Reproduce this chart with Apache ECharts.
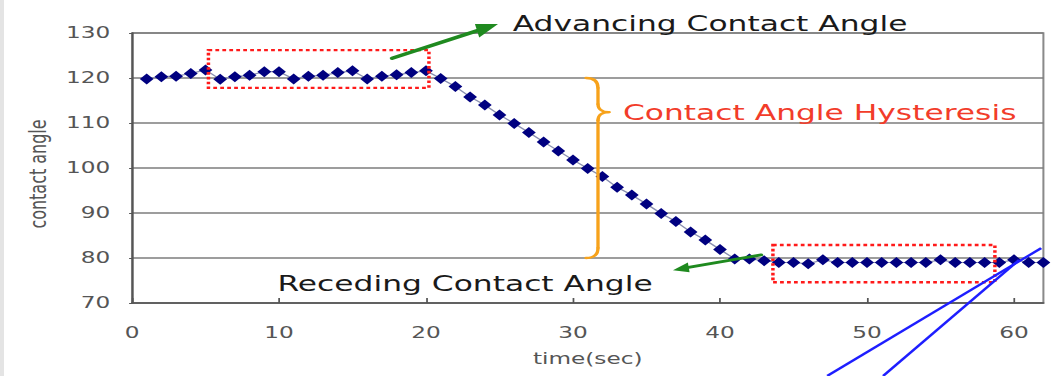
<!DOCTYPE html>
<html>
<head>
<meta charset="utf-8">
<script src="https://cdn.jsdelivr.net/npm/echarts@6/dist/echarts.min.js"></script>
<style>
html,body{margin:0;padding:0;background:#fff;overflow:hidden;width:1061px;height:376px}
#wrap{position:absolute;left:0;top:0;width:731.72px;height:376px;transform:scaleX(1.45);transform-origin:0 0}
#main{width:100%;height:100%}
</style>
</head>
<body>
<div id="wrap"><div id="main"></div></div>
<script>
// ---- data ----
const times = [1,2,3,4,5,6,7,8,9,10,11,12,13,14,15,16,17,18,19,20,21,22,23,24,25,26,27,28,29,30,31,32,33,34,35,36,37,38,39,40,41,42,43,44,45,46,47,48,49,50,51,52,53,54,55,56,57,58,59,60,61,62];
const angles = [119.8,120.3,120.4,121.0,121.8,119.7,120.3,120.6,121.4,121.4,119.8,120.4,120.6,121.2,121.6,119.8,120.4,120.7,121.2,121.6,119.9,118.1,115.8,114.0,111.8,109.9,107.9,105.8,103.8,101.8,99.9,98.1,95.7,94.0,92.0,89.9,88.1,85.8,84.0,81.9,79.8,79.8,79.4,79.0,79.0,78.7,79.6,79.0,79.0,79.0,79.0,79.0,79.0,79.0,79.6,79.0,79.0,79.0,79.0,79.6,79.0,79.0];
const xLabelTicks = [0,10,20,30,40,50,60];
const yLabelTicks = [70,80,90,100,110,120,130];
const xTitle = 'time(sec)';
const yTitle = 'contact angle';
const advText = 'Advancing Contact Angle';
const recText = 'Receding Contact Angle';
const hysText = 'Contact Angle Hysteresis';
// annotation anchors in data units
const advRect = [[5.2,126.2],[20.2,117.8]];
const recRect = [[43.6,82.9],[58.7,74.6]];
const advArrow = [[17.7,124.4],[24.9,132.0]];
const recArrow = [[42.8,80.7],[36.8,77.3]];
const blueLines = [[[47.3,53.8],[61.85,82.2]],[[51.1,53.8],[60.35,79.6]]];
const brace = {x:31.7, top:120, bottom:80, tip:112.4};
const advTextAt = [25.9,132.2];
const recTextAt = [9.9,74.4];
const hysTextAt = [33.4,112.4];

const SX = 1.45;
const chart = echarts.init(document.getElementById('main'), null, {renderer:'svg'});
const FONT = 'DejaVu Sans';

chart.setOption({
  animation:false,
  backgroundColor:'#fff',
  grid:{left:91.03, right:12.41, top:33, bottom:73, show:true, borderColor:'#8a8a8a', borderWidth:1.4, backgroundColor:'transparent'},
  xAxis:{
    type:'value', min:0, max:62, interval:10,
    name:xTitle, nameLocation:'middle', nameGap:48,
    nameTextStyle:{fontFamily:FONT, fontSize:16, color:'#555'},
    axisLine:{show:true, lineStyle:{color:'#555', width:1.6}},
    axisTick:{show:true, inside:true, length:5, lineStyle:{color:'#555', width:1.2}},
    axisLabel:{fontFamily:FONT, fontSize:16, color:'#555', margin:22, showMaxLabel:false,
      formatter:v=> xLabelTicks.includes(v) ? String(v) : ''},
    splitLine:{show:false}
  },
  yAxis:{
    type:'value', min:70, max:130, interval:10,
    name:yTitle, nameLocation:'middle', nameGap:52,
    nameTextStyle:{fontFamily:FONT, fontSize:16, color:'#555', padding:[0,12,0,0]},
    axisLine:{show:true, lineStyle:{color:'#555', width:1.4}},
    axisTick:{show:true, length:2, lineStyle:{color:'#555'}},
    axisLabel:{fontFamily:FONT, fontSize:16, color:'#555', margin:15,
      formatter:v=> yLabelTicks.includes(v) ? String(v) : ''},
    splitLine:{show:true, lineStyle:{color:'#7c7c7c', width:1.6}}
  },
  series:[{
    type:'line',
    data: times.map((t,i)=>[t, angles[i]]),
    symbol:'diamond', symbolSize:[9.5,11],
    itemStyle:{color:'#000080'},
    lineStyle:{color:'#8a8fb0', width:1.2},
    z:5
  }]
});

function P(p){ return chart.convertToPixel({gridIndex:0}, p); }
function arrow(from, to, color, width, headLen, headW){
  const a = P(from), b = P(to);
  const A=[a[0]*SX,a[1]], B=[b[0]*SX,b[1]];
  const dx=B[0]-A[0], dy=B[1]-A[1], L=Math.hypot(dx,dy), ux=dx/L, uy=dy/L;
  const base=[B[0]-ux*headLen*0.8, B[1]-uy*headLen*0.8];
  const hb=[B[0]-ux*headLen, B[1]-uy*headLen];
  const l=[hb[0]-uy*headW/2, hb[1]+ux*headW/2], r=[hb[0]+uy*headW/2, hb[1]-ux*headW/2];
  const u = p=>[p[0]/SX,p[1]];
  return [
    {type:'line', z:20, shape:{x1:A[0]/SX,y1:A[1],x2:base[0]/SX,y2:base[1]}, style:{stroke:color,lineWidth:width,lineCap:'round'}},
    {type:'polygon', z:20, shape:{points:[u(B),u(l),u(r)]}, style:{fill:color}}
  ];
}
function rect(r, color){
  const a=P(r[0]), b=P(r[1]);
  return {type:'rect', z:15, shape:{x:Math.min(a[0],b[0]), y:Math.min(a[1],b[1]), width:Math.abs(b[0]-a[0]), height:Math.abs(b[1]-a[1])},
    style:{fill:'none', stroke:color, lineWidth:2.4, lineDash:[2.6,2.2]}};
}
function braceParts(){
  const xc = P([brace.x, brace.top])[0]*SX;
  const T = P([brace.x, brace.top])[1], B = P([brace.x, brace.bottom])[1], M = P([brace.x, brace.tip])[1];
  const X = v=> v/SX;
  const x0 = xc-12, xt = xc+11;
  const st = {fill:'none', stroke:'#f7a21b', lineWidth:2.3, lineCap:'round'};
  const bz = (x1,y1,c1x,c1y,c2x,c2y,x2,y2)=>({type:'bezierCurve', z:18,
    shape:{x1:X(x1),y1:y1,cpx1:X(c1x),cpy1:c1y,cpx2:X(c2x),cpy2:c2y,x2:X(x2),y2:y2}, style:st});
  const ln = (x1,y1,x2,y2)=>({type:'line', z:18, shape:{x1:X(x1),y1:y1,x2:X(x2),y2:y2}, style:st});
  return [
    bz(x0,T, xc-4,T, xc,T+3, xc,T+10),
    ln(xc,T+10, xc,M-8),
    bz(xc,M-8, xc,M-3, xc+4,M, xt,M),
    bz(xt,M, xc+4,M, xc,M+3, xc,M+8),
    ln(xc,M+8, xc,B-10),
    bz(xc,B-10, xc,B-3, xc-4,B, x0,B)
  ];
}
function text(str, at, color){
  const p = P(at);
  return {type:'text', z:25, style:{text:str, x:p[0], y:p[1], fill:color, fontFamily:FONT, fontSize:21.6, align:'left', verticalAlign:'middle'}};
}

const g = [];
g.push({type:'rect', z:1, shape:{x:0,y:0,width:4/SX,height:376}, style:{fill:'#e4e4e4'}});
g.push(rect(advRect,'#ff1a1a'));
g.push(rect(recRect,'#ff1a1a'));
g.push(...arrow(advArrow[0], advArrow[1], '#1f8a1f', 3.4, 22, 14));
g.push(...arrow(recArrow[0], recArrow[1], '#1f8a1f', 2.8, 16, 10));
g.push(...braceParts());
blueLines.forEach(l=>{
  const a=P(l[0]), b=P(l[1]);
  g.push({type:'line', z:22, shape:{x1:a[0],y1:a[1],x2:b[0],y2:b[1]}, style:{stroke:'#1e1eff', lineWidth:2.1}});
});
g.push(text(advText, advTextAt, '#1a1a1a'));
g.push(text(recText, recTextAt, '#1a1a1a'));
g.push(text(hysText, hysTextAt, '#f23c2a'));
chart.setOption({graphic:g});
</script>
</body>
</html>
